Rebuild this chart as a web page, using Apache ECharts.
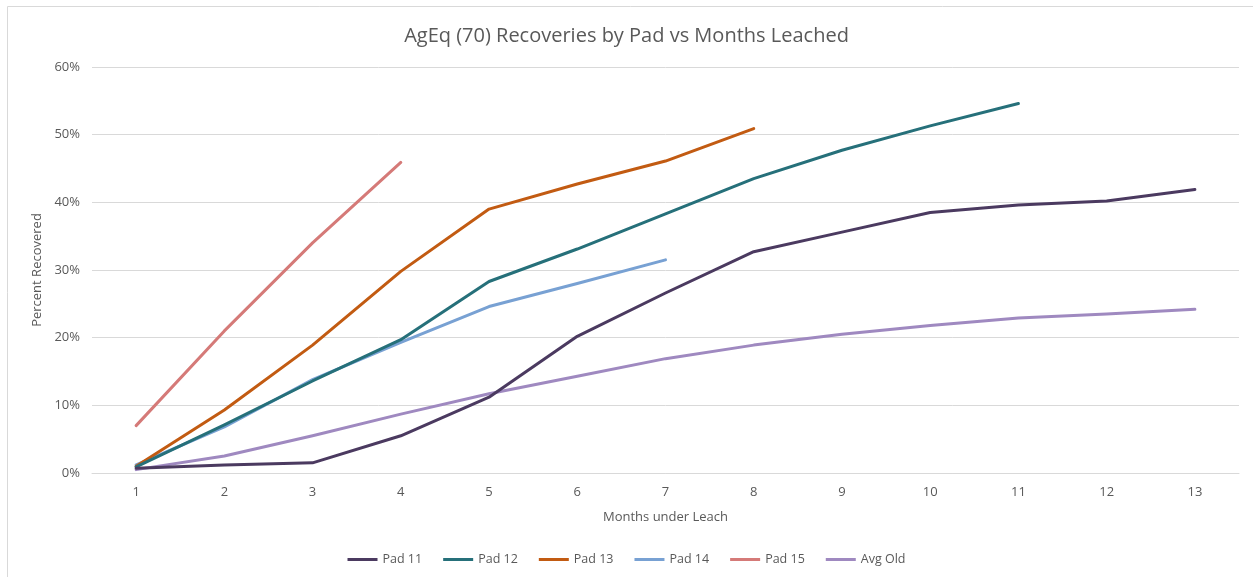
<!DOCTYPE html>
<html>
<head>
<meta charset="utf-8">
<script src="https://cdn.jsdelivr.net/npm/echarts@6/dist/echarts.min.js"></script>
<style>
  html, body { margin: 0; padding: 0; background: #fff; }
  #chart { width: 1253px; height: 577px; }
</style>
</head>
<body>
<div id="chart"></div>
<script>
// months under leach
const months = ['1', '2', '3', '4', '5', '6', '7', '8', '9', '10', '11', '12', '13'];

// percent recovered
const pad11 = [0.7, 1.2, 1.5, 5.5, 11.2, 20.2, 26.6, 32.7, 35.6, 38.5, 39.6, 40.2, 41.9];
const pad12 = [0.9, 7.1, 13.6, 19.7, 28.3, 33.1, 38.3, 43.5, 47.7, 51.3, 54.6];
const pad13 = [1.0, 9.3, 18.9, 29.8, 39.0, 42.7, 46.1, 50.9];
const pad14 = [1.2, 6.8, 13.8, 19.3, 24.6, 28.0, 31.5];
const pad15 = [7.0, 21.0, 34.0, 45.9];
const avgOld = [0.5, 2.5, 5.5, 8.7, 11.7, 14.3, 16.9, 18.9, 20.5, 21.8, 22.9, 23.5, 24.2];

const yTicks = [0, 10, 20, 30, 40, 50, 60];

const names = ['Pad 11', 'Pad 12', 'Pad 13', 'Pad 14', 'Pad 15', 'Avg Old'];
const colors = ['#4b3a60', '#26707a', '#c25b12', '#78a1d3', '#d57a78', '#9f89c0'];
const values = [pad11, pad12, pad13, pad14, pad15, avgOld];

const font = 'Open Sans';
const chart = echarts.init(document.getElementById('chart'));

chart.setOption({
  animation: false,
  color: colors,
  title: {
    text: 'AgEq (70) Recoveries by Pad vs Months Leached',
    left: 'center',
    top: 21,
    textStyle: { fontFamily: font, fontSize: 20, fontWeight: 'normal', color: '#595959' }
  },
  graphic: [{
    type: 'rect',
    shape: { x: 7.5, y: 6.5, width: 1260, height: 600 },
    style: { fill: 'none', stroke: '#d9d9d9', lineWidth: 1 },
    silent: true
  }],
  grid: { left: 92, right: 14, top: 67, bottom: 104 },
  legend: {
    bottom: 6,
    left: 'center',
    itemWidth: 30,
    itemHeight: 3,
    itemGap: 21,
    icon: 'rect',
    textStyle: { fontFamily: font, fontSize: 12.5, color: '#595959' },
    data: names
  },
  xAxis: {
    type: 'category',
    data: months,
    boundaryGap: true,
    name: 'Months under Leach',
    nameLocation: 'middle',
    nameGap: 38,
    nameTextStyle: { fontFamily: font, fontSize: 13, color: '#595959' },
    axisLine: { lineStyle: { color: '#d9d9d9' } },
    axisTick: { show: false },
    axisLabel: { fontFamily: font, fontSize: 13, color: '#595959', margin: 13 }
  },
  yAxis: {
    type: 'value',
    min: yTicks[0],
    max: yTicks[yTicks.length - 1],
    interval: 10,
    name: 'Percent Recovered',
    nameLocation: 'middle',
    nameGap: 47,
    nameTextStyle: { fontFamily: font, fontSize: 13, color: '#595959' },
    axisLine: { show: false },
    axisTick: { show: false },
    splitLine: { lineStyle: { color: '#d9d9d9' } },
    axisLabel: { fontFamily: font, fontSize: 13, color: '#595959', margin: 12, formatter: '{value}%' }
  },
  series: names.map((n, i) => ({
    name: n,
    type: 'line',
    data: values[i],
    showSymbol: false,
    symbol: 'none',
    lineStyle: { width: 3, color: colors[i], cap: 'round', join: 'round' },
    z: 10 - i
  }))
});
</script>
</body>
</html>
